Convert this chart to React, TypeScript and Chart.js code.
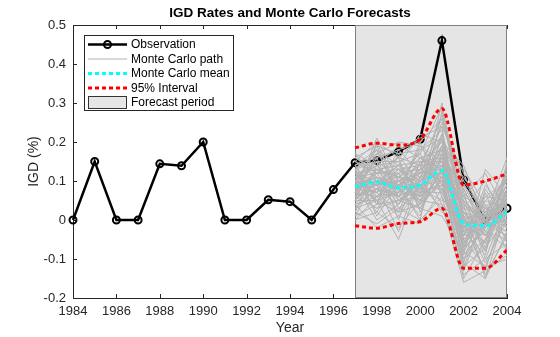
import { useEffect, useRef } from "react";
import { Chart, registerables } from "chart.js";

Chart.register(...registerables);

const years = [1984, 1985, 1986, 1987, 1988, 1989, 1990, 1991, 1992, 1993, 1994, 1995, 1996, 1997, 1998, 1999, 2000, 2001, 2002, 2003, 2004];
const observed = [0, 0.15, 0, 0, 0.144, 0.139, 0.2, 0, 0, 0.052, 0.047, 0, 0.078, 0.147, 0.152, 0.175, 0.207, 0.46, 0.103, 0.0, 0.03];

const forecastYears = [1997, 1998, 1999, 2000, 2001, 2002, 2003, 2004];
const mcMean = [0.085, 0.097, 0.083, 0.09, 0.127, -0.009, -0.015, 0.021];
const ciUpper = [0.185, 0.197, 0.192, 0.207, 0.286, 0.09, 0.1, 0.118];
const ciLower = [-0.015, -0.021, -0.009, -0.004, 0.03, -0.124, -0.124, -0.077];

const mcPaths: number[][] = [
  [0.08, 0.12, 0.05, 0.10, 0.15, 0.02, -0.04, 0.03],
  [0.12, 0.06, 0.11, 0.14, 0.20, -0.05, 0.01, -0.02],
  [0.04, 0.10, 0.14, 0.07, 0.09, 0.05, -0.08, 0.06],
  [0.10, 0.18, 0.06, 0.03, 0.13, -0.02, 0.04, -0.05],
  [0.06, 0.03, 0.09, 0.12, 0.24, -0.09, -0.02, 0.08],
  [0.15, 0.11, 0.02, 0.09, 0.11, 0.01, -0.11, 0.00],
  [0.09, 0.07, 0.12, 0.17, 0.07, -0.04, 0.06, 0.10],
  [0.02, 0.14, 0.08, 0.05, 0.16, 0.08, -0.03, -0.07],
  [0.11, 0.09, -0.03, 0.11, 0.19, -0.12, 0.02, 0.04],
  [0.07, 0.21, 0.10, 0.08, 0.05, 0.03, -0.06, 0.12],
  [0.13, 0.05, 0.07, 0.19, 0.12, -0.07, 0.09, 0.01],
  [0.05, 0.12, 0.16, 0.02, 0.14, -0.01, -0.13, 0.05],
  [0.09, 0.00, 0.04, 0.13, 0.27, 0.04, 0.00, -0.03],
  [0.17, 0.10, 0.09, 0.06, 0.10, -0.15, -0.05, 0.07],
  [0.03, 0.08, 0.13, 0.10, 0.18, 0.11, 0.03, -0.01],
  [0.08, 0.15, 0.00, 0.15, 0.08, -0.03, -0.09, 0.14],
  [0.11, 0.04, 0.10, 0.04, 0.22, 0.06, 0.12, 0.02],
  [0.06, 0.13, 0.06, 0.09, 0.03, -0.10, -0.01, 0.09],
  [0.14, 0.07, 0.18, 0.12, 0.13, 0.00, -0.14, -0.04],
  [0.01, 0.11, 0.08, 0.01, 0.17, -0.06, 0.05, 0.03],
  [0.10, 0.02, 0.11, 0.16, 0.09, 0.09, -0.02, 0.11],
  [0.07, 0.16, 0.03, 0.07, 0.21, -0.08, 0.07, -0.06],
  [0.12, 0.09, 0.14, 0.11, 0.14, 0.02, -0.07, 0.06],
  [0.04, 0.06, 0.07, 0.20, 0.06, -0.04, 0.02, 0.00],
  [0.09, 0.19, 0.05, 0.08, 0.25, 0.07, -0.10, 0.04],
  [0.16, 0.12, 0.12, 0.03, 0.11, -0.13, 0.01, 0.16],
  [0.05, 0.05, -0.05, 0.10, 0.16, 0.03, 0.10, -0.02],
  [0.08, 0.10, 0.10, 0.14, 0.04, -0.02, -0.04, 0.07],
  [0.11, 0.14, 0.15, 0.06, 0.19, 0.13, 0.04, -0.08],
  [0.03, 0.08, 0.06, 0.12, 0.12, -0.05, -0.12, 0.02],
  [0.13, 0.01, 0.09, 0.00, 0.28, -0.01, 0.06, 0.05],
  [0.07, 0.13, 0.11, 0.09, 0.10, 0.05, -0.01, 0.13],
  [0.10, 0.07, 0.02, 0.15, 0.15, -0.11, 0.08, -0.01],
  [0.06, 0.17, 0.13, 0.07, 0.07, 0.00, -0.06, 0.08],
  [0.12, 0.10, 0.08, 0.18, 0.23, -0.07, 0.03, 0.01],
  [0.00, 0.06, 0.12, 0.04, 0.13, 0.04, -0.15, 0.03],
  [0.09, 0.11, 0.04, 0.11, 0.02, -0.03, 0.05, 0.10],
  [0.14, 0.04, 0.17, 0.08, 0.17, 0.08, -0.03, -0.05],
  [0.05, 0.20, 0.07, 0.13, 0.11, -0.09, 0.13, 0.06],
  [0.08, 0.09, 0.10, 0.06, 0.30, 0.01, -0.08, 0.15],
  [0.16, 0.19, 0.17, 0.18, 0.21, 0.05, 0.00, 0.04],
  [0.14, 0.16, 0.18, 0.20, 0.26, 0.10, 0.02, 0.09],
  [0.17, 0.14, 0.19, 0.16, 0.18, -0.02, 0.01, 0.12],
  [0.15, 0.20, 0.16, 0.21, 0.24, 0.12, -0.01, 0.03],
  [0.13, 0.17, 0.20, 0.19, 0.15, 0.06, 0.03, -0.02],
  [0.11, 0.15, 0.15, 0.17, 0.29, 0.00, -0.02, 0.07],
  [0.16, 0.13, 0.14, 0.22, 0.20, 0.14, 0.00, 0.05],
  [0.02, -0.01, 0.03, 0.00, 0.06, -0.14, -0.10, -0.06],
  [0.00, 0.02, -0.02, 0.05, 0.04, -0.16, -0.13, -0.09],
  [0.04, -0.02, 0.01, -0.01, 0.08, -0.11, -0.15, -0.03],
  [0.01, 0.04, 0.05, 0.03, 0.01, -0.08, -0.12, -0.10],
  [0.07, 0.06, 0.01, 0.08, 0.14, -0.03, 0.00, 0.02],
  [0.10, 0.08, 0.07, 0.10, 0.12, -0.01, 0.01, 0.04],
  [0.08, 0.11, 0.09, 0.07, 0.16, -0.06, -0.01, 0.00],
  [0.06, 0.09, 0.12, 0.13, 0.10, 0.02, 0.00, 0.09],
  [0.12, 0.13, 0.06, 0.09, 0.18, -0.04, -0.02, 0.03],
  [0.09, 0.05, 0.10, 0.12, 0.21, 0.00, 0.02, -0.01],
  [0.05, 0.10, 0.08, 0.05, 0.09, -0.07, -0.03, 0.05],
  [0.11, 0.12, 0.13, 0.14, 0.14, 0.03, 0.01, 0.01],
  [0.07, 0.03, 0.05, 0.06, 0.11, -0.10, -0.05, 0.08],
  [0.13, 0.15, 0.11, 0.10, 0.19, 0.04, -0.01, -0.04],
  [0.08, 0.07, 0.13, 0.08, 0.08, -0.02, 0.03, 0.11],
  [0.10, 0.14, 0.09, 0.13, 0.17, 0.01, -0.02, 0.06],
  [0.06, 0.08, 0.04, 0.10, 0.15, -0.05, 0.00, -0.03],
  [0.09, 0.10, 0.11, 0.05, 0.12, 0.06, -0.04, 0.02],
  [0.12, 0.06, 0.09, 0.11, 0.22, -0.03, 0.01, 0.10],
  [0.14, 0.18, 0.14, 0.15, 0.16, 0.09, 0.02, 0.04],
  [0.03, 0.05, 0.02, 0.04, 0.10, -0.12, -0.07, 0.00],
  [0.15, 0.12, 0.16, 0.14, 0.26, 0.07, 0.00, 0.08],
  [0.10, 0.09, 0.06, 0.16, 0.13, -0.08, 0.01, 0.05],
];

const forecastStart = 1997;
const forecastEnd = 2004;

const titleText = "IGD Rates and Monte Carlo Forecasts";
const xLabel = "Year";
const yLabel = "IGD (%)";
const legendLabels = ["Observation", "Monte Carlo path", "Monte Carlo mean", "95% Interval", "Forecast period"];

const FONT = '"Liberation Sans", Arial, Helvetica, sans-serif';
const AXIS = "#262626";
const PATH_COLOR = "#b3b3b3";
const RED = "#ff0000";
const CYAN = "#00ffff";
const FILL = "#e5e5e5";
const EDGE = "#808080";

const toPts = (xs: number[], ys: number[]) => xs.map((x, i) => ({ x, y: ys[i] }));

const decor = {
  id: "decor",
  beforeDatasetsDraw(chart: any) {
    const { ctx, chartArea, scales } = chart;
    const { left, right, top, bottom } = chartArea;
    const x = scales.x;
    const y = scales.y;
    ctx.save();
    ctx.strokeStyle = AXIS;
    ctx.lineWidth = 1;
    ctx.beginPath();
    ctx.moveTo(left, Math.round(top) + 0.5);
    ctx.lineTo(right, Math.round(top) + 0.5);
    ctx.moveTo(Math.round(right) - 0.5, top);
    ctx.lineTo(Math.round(right) - 0.5, bottom);
    for (const t of x.ticks) {
      const px = Math.round(x.getPixelForValue(t.value)) + 0.5;
      ctx.moveTo(px, bottom);
      ctx.lineTo(px, bottom - 4);
      ctx.moveTo(px, top);
      ctx.lineTo(px, top + 4);
    }
    for (const t of y.ticks) {
      const py = Math.round(y.getPixelForValue(t.value)) + 0.5;
      ctx.moveTo(left, py);
      ctx.lineTo(left + 4, py);
      ctx.moveTo(right, py);
      ctx.lineTo(right - 4, py);
    }
    ctx.stroke();
    const x0 = Math.round(x.getPixelForValue(forecastStart)) + 0.5;
    const x1 = Math.round(x.getPixelForValue(forecastEnd)) - 0.5;
    const y0 = Math.round(top) + 0.5;
    const y1 = Math.round(bottom) - 0.5;
    ctx.fillStyle = FILL;
    ctx.fillRect(x0, y0, x1 - x0, y1 - y0);
    ctx.strokeStyle = EDGE;
    ctx.strokeRect(x0, y0, x1 - x0, y1 - y0);
    ctx.restore();
  },
  afterDraw(chart: any) {
    const { ctx, chartArea } = chart;
    const { left, right, top, bottom } = chartArea;
    const cx = (left + right) / 2;
    ctx.save();
    // title
    ctx.fillStyle = "#000";
    ctx.textAlign = "center";
    ctx.textBaseline = "middle";
    ctx.font = `bold 13.5px ${FONT}`;
    ctx.fillText(titleText, cx, 13);
    ctx.fillStyle = AXIS;
    ctx.font = `14px ${FONT}`;
    ctx.fillText(xLabel, cx, 328);
    ctx.save();
    ctx.translate(34, (top + bottom) / 2);
    ctx.rotate(-Math.PI / 2);
    ctx.fillText(yLabel, 0, 0);
    ctx.restore();

    // legend
    const bx = 84.5, by = 35.5, bw = 149, bh = 75;
    ctx.fillStyle = "#fff";
    ctx.fillRect(bx, by, bw, bh);
    ctx.strokeStyle = AXIS;
    ctx.lineWidth = 1;
    ctx.strokeRect(bx, by, bw, bh);
    const rows = [44.5, 59, 73.5, 88, 102];
    const sx0 = 88, sx1 = 127, tx = 131;
    ctx.lineCap = "butt";
    // observation
    ctx.strokeStyle = "#000";
    ctx.lineWidth = 2.5;
    ctx.beginPath();
    ctx.moveTo(sx0, rows[0]);
    ctx.lineTo(sx1, rows[0]);
    ctx.stroke();
    ctx.beginPath();
    ctx.arc((sx0 + sx1) / 2, rows[0], 3.5, 0, Math.PI * 2);
    ctx.lineWidth = 2;
    ctx.stroke();
    // path
    ctx.strokeStyle = PATH_COLOR;
    ctx.lineWidth = 1;
    ctx.beginPath();
    ctx.moveTo(sx0, rows[1]);
    ctx.lineTo(sx1, rows[1]);
    ctx.stroke();
    // mean
    ctx.setLineDash([4, 3]);
    ctx.lineWidth = 3;
    ctx.strokeStyle = CYAN;
    ctx.beginPath();
    ctx.moveTo(sx0, rows[2]);
    ctx.lineTo(sx1, rows[2]);
    ctx.stroke();
    ctx.strokeStyle = RED;
    ctx.beginPath();
    ctx.moveTo(sx0, rows[3]);
    ctx.lineTo(sx1, rows[3]);
    ctx.stroke();
    ctx.setLineDash([]);
    // patch
    ctx.fillStyle = FILL;
    ctx.fillRect(88.5, 96.5, 38, 12);
    ctx.strokeStyle = "#333";
    ctx.lineWidth = 1;
    ctx.strokeRect(88.5, 96.5, 38, 12);
    // texts
    ctx.fillStyle = "#000";
    ctx.textAlign = "left";
    ctx.font = `12px ${FONT}`;
    legendLabels.forEach((l, i) => ctx.fillText(l, tx, rows[i] + 0.5));
    ctx.restore();
  },
};

export default function App() {
  const ref = useRef<HTMLCanvasElement | null>(null);
  useEffect(() => {
    document.body.style.margin = "0";
    const canvas = ref.current!;
    const datasets: any[] = [];
    datasets.push({
      label: "Observation",
      data: toPts(years, observed),
      borderColor: "#000",
      borderWidth: 2.5,
      pointRadius: 3.5,
      pointBorderWidth: 2,
      pointBackgroundColor: "rgba(0,0,0,0)",
      pointBorderColor: "#000",
      clip: false,
      order: 10,
    });
    mcPaths.forEach((p, i) => {
      datasets.push({
        label: "MC " + i,
        data: toPts(forecastYears, p),
        borderColor: PATH_COLOR,
        borderWidth: 1,
        pointRadius: 0,
        order: 5,
      });
    });
    datasets.push({
      label: "Upper",
      data: toPts(forecastYears, ciUpper),
      borderColor: RED,
      borderWidth: 3,
      borderDash: [4, 3],
      pointRadius: 0,
      cubicInterpolationMode: "monotone",
      order: 1,
    });
    datasets.push({
      label: "Lower",
      data: toPts(forecastYears, ciLower),
      borderColor: RED,
      borderWidth: 3,
      borderDash: [4, 3],
      pointRadius: 0,
      cubicInterpolationMode: "monotone",
      order: 1,
    });
    datasets.push({
      label: "Mean",
      data: toPts(forecastYears, mcMean),
      borderColor: CYAN,
      borderWidth: 3,
      borderDash: [4, 3],
      pointRadius: 0,
      cubicInterpolationMode: "monotone",
      order: 0,
    });
    const chart = new Chart(canvas, {
      type: "line",
      data: { datasets },
      plugins: [decor],
      options: {
        responsive: false,
        animation: false,
        layout: { padding: { top: 25, right: 53, left: 0, bottom: 0 } },
        plugins: { legend: { display: false }, title: { display: false }, tooltip: { enabled: false } },
        scales: {
          x: {
            type: "linear",
            min: 1984,
            max: 2004,
            afterFit: (s: any) => { s.height = 39; },
            grid: { display: false, drawTicks: false },
            border: { display: true, color: AXIS, width: 1 },
            ticks: {
              stepSize: 2,
              padding: 6,
              color: AXIS,
              font: { family: FONT, size: 13 },
              maxRotation: 0,
              callback: (v: any) => String(v),
            },
          },
          y: {
            type: "linear",
            min: -0.2,
            max: 0.5,
            afterFit: (s: any) => { s.width = 73; },
            grid: { display: false, drawTicks: false },
            border: { display: true, color: AXIS, width: 1 },
            ticks: {
              stepSize: 0.1,
              padding: 7,
              color: AXIS,
              font: { family: FONT, size: 13 },
              callback: (v: any) => String(Math.round(Number(v) * 10) / 10),
            },
          },
        },
      },
    });
    return () => chart.destroy();
  }, []);
  return (
    <div style={{ position: "absolute", left: 0, top: 0, width: 560, height: 337 }}>
      <canvas ref={ref} width={560} height={337} style={{ display: "block" }} />
    </div>
  );
}
